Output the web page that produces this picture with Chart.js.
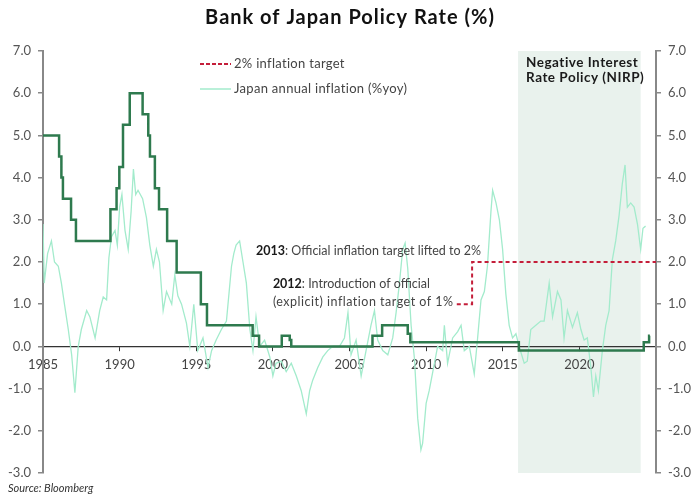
<!DOCTYPE html>
<html>
<head>
<meta charset="utf-8">
<title>Bank of Japan Policy Rate</title>
<script src="https://cdn.jsdelivr.net/npm/chart.js@4/dist/chart.umd.min.js"></script>
<style>
  html, body { margin: 0; padding: 0; background: #fff; }
</style>
</head>
<body>
<canvas id="chart" width="700" height="503"></canvas>
<script>
// BoJ policy rate - change dates (decimal years) and new level
const rateYears = [1985.0, 1986.05, 1986.2, 1986.3, 1986.83, 1987.15, 1989.4, 1989.8, 1989.98, 1990.22,
  1990.66, 1991.5, 1991.87, 1991.98, 1992.3, 1992.57, 1993.1, 1993.72, 1995.3, 1995.7,
  1998.68, 1999.1, 2000.58, 2001.1, 2001.2, 2006.5, 2007.13, 2008.8, 2008.97, 2016.05,
  2024.2, 2024.55, 2024.6];
const rateValues = [5.0, 4.5, 4.0, 3.5, 3.0, 2.5, 3.25, 3.75, 4.25, 5.25,
  6.0, 5.5, 5.0, 4.5, 3.75, 3.25, 2.5, 1.75, 1.0, 0.5,
  0.25, 0.0, 0.25, 0.15, 0.0, 0.25, 0.5, 0.3, 0.1, -0.1,
  0.1, 0.25, 0.25];

// inflation target line
const targetYears = [2012, 2013, 2025];
const targetValues = [1, 2, 2];

// Japan CPI %yoy
const inflationYears = [1985.0, 1985.08, 1985.3, 1985.55, 1985.75, 1986.0, 1986.2, 1986.4, 1986.65, 1986.87,
  1987.08, 1987.3, 1987.5, 1987.85, 1988.06, 1988.4, 1988.7, 1988.93, 1989.15, 1989.3,
  1989.47, 1989.7, 1989.85, 1990.0, 1990.15, 1990.35, 1990.56, 1990.75, 1990.9, 1991.05,
  1991.2, 1991.5, 1991.75, 1991.97, 1992.2, 1992.4, 1992.6, 1992.84, 1993.06, 1993.4,
  1993.6, 1993.8, 1994.04, 1994.36, 1994.58, 1994.84, 1995.1, 1995.44, 1995.77, 1996.0,
  1996.3, 1996.64, 1996.97, 1997.3, 1997.45, 1997.6, 1997.83, 1998.05, 1998.27, 1998.5,
  1998.7, 1998.9, 1999.14, 1999.46, 1999.8, 2000.0, 2000.2, 2000.55, 2000.87, 2001.2,
  2001.53, 2001.85, 2002.18, 2002.4, 2002.6, 2002.93, 2003.26, 2003.58, 2003.9, 2004.35,
  2004.67, 2004.9, 2005.1, 2005.43, 2005.76, 2006.08, 2006.4, 2006.63, 2006.84, 2007.17,
  2007.5, 2007.82, 2008.04, 2008.26, 2008.47, 2008.63, 2008.8, 2009.02, 2009.24, 2009.45,
  2009.66, 2009.77, 2010.0, 2010.2, 2010.54, 2010.75, 2011.08, 2011.19, 2011.4, 2011.73,
  2012.06, 2012.28, 2012.49, 2012.82, 2013.14, 2013.36, 2013.58, 2013.8, 2014.0, 2014.23,
  2014.34, 2014.56, 2014.78, 2014.99, 2015.2, 2015.42, 2015.64, 2015.86, 2016.07, 2016.4,
  2016.6, 2016.83, 2017.16, 2017.48, 2017.7, 2018.03, 2018.25, 2018.57, 2018.8, 2019.0,
  2019.22, 2019.55, 2019.87, 2020.1, 2020.31, 2020.52, 2020.75, 2020.92, 2021.07, 2021.24,
  2021.5, 2021.72, 2021.94, 2022.15, 2022.37, 2022.59, 2022.8, 2022.98, 2023.13, 2023.35,
  2023.57, 2023.79, 2024.0, 2024.15, 2024.32];
const inflationValues = [2.9, 1.5, 2.2, 2.5, 2.0, 1.9, 1.5, 1.0, 0.4, -0.2,
  -1.1, 0.0, 0.4, 0.85, 0.7, 0.2, 0.85, 1.17, 1.1, 2.1,
  2.6, 2.75, 2.4, 3.3, 3.6, 2.75, 2.3, 3.2, 4.2, 3.6,
  3.7, 3.5, 3.05, 2.4, 1.9, 2.3, 2.0, 0.85, 1.3, 1.0,
  1.7, 1.2, 1.0, 0.55, 0.0, 1.0, -0.1, 0.2, -0.5, -0.1,
  0.15, 0.4, 0.6, 1.9, 2.2, 2.4, 2.5, 2.0, 1.5, 0.4,
  -0.1, 0.7, 0.0, 0.15, -0.25, -0.7, -0.4, -0.35, -0.6, -0.4,
  -0.7, -1.05, -1.6, -1.05, -0.8, -0.5, -0.25, -0.1, 0.0, 0.0,
  0.2, 0.8, -0.2, 0.15, -0.7, -0.1, 0.5, 0.85, 0.15, -0.1,
  -0.2, 0.2, 0.8, 1.5, 2.3, 2.45, 1.85, 0.5, -0.3, -1.7,
  -2.45, -2.3, -1.35, -1.05, -0.4, 0.0, -0.1, 0.5, -0.4, 0.2,
  0.35, 0.5, -0.1, 0.0, -0.65, 0.2, 1.1, 1.3, 1.9, 3.2,
  3.7, 3.4, 3.0, 2.3, 1.25, 0.5, 0.2, 0.3, 0.0, -0.4,
  -0.35, 0.4, 0.5, 0.6, 0.6, 1.5, 0.7, 1.3, 1.1, 0.2,
  0.85, 0.45, 0.8, 0.4, 0.15, 0.2, -0.5, -1.2, -0.7, -1.05,
  -0.1, 0.5, 0.85, 2.05, 2.5, 3.1, 3.85, 4.3, 3.3, 3.4,
  3.3, 2.9, 2.3, 2.8, 2.85];

// NIRP period
const nirpStart = 2016.0;
const nirpEnd = 2024.0;

const FONT = 'Lato, "DejaVu Sans", sans-serif';
const toPoints = (xs, ys) => xs.map((x, i) => ({ x: x, y: ys[i] }));

// shaded NIRP box behind everything
const nirpShade = {
  id: 'nirpShade',
  beforeDraw(chart) {
    const { ctx, chartArea, scales } = chart;
    const x0 = scales.x.getPixelForValue(nirpStart);
    const x1 = scales.x.getPixelForValue(nirpEnd);
    ctx.save();
    ctx.fillStyle = '#e9f2ed';
    ctx.fillRect(x0, chartArea.top, x1 - x0, chartArea.bottom - chartArea.top);
    ctx.restore();
  }
};

// bold year + normal text, squeezed into total width if given
function richText(ctx, x, y, bold, rest, size, total) {
  ctx.font = 'bold ' + size + 'px ' + FONT;
  ctx.fillStyle = '#1a1a1a';
  ctx.fillText(bold, x, y);
  const w = ctx.measureText(bold).width;
  ctx.font = size + 'px ' + FONT;
  ctx.fillStyle = '#444';
  if (total) ctx.fillText(rest, x + w, y, total - w);
  else ctx.fillText(rest, x + w, y);
}

// title, legend and notes
const labels = {
  id: 'labels',
  afterDraw(chart) {
    const { ctx, scales } = chart;
    const xs = scales.x, ys = scales.y;
    ctx.save();
    ctx.textBaseline = 'middle';

    ctx.textAlign = 'center';
    ctx.fillStyle = '#111';
    ctx.font = 'bold 20px ' + FONT;
    ctx.letterSpacing = '1px';
    ctx.fillText('Bank of Japan Policy Rate (%)', 350, 18);

    ctx.textAlign = 'left';
    // legend
    ctx.strokeStyle = '#c41e3a';
    ctx.lineWidth = 2;
    ctx.setLineDash([4, 2]);
    ctx.beginPath(); ctx.moveTo(200, 64); ctx.lineTo(231, 64); ctx.stroke();
    ctx.setLineDash([]);
    ctx.strokeStyle = '#a3ebcc';
    ctx.lineWidth = 1.5;
    ctx.beginPath(); ctx.moveTo(200, 89); ctx.lineTo(231, 89); ctx.stroke();
    ctx.font = '13px ' + FONT;
    ctx.letterSpacing = '0.3px';
    ctx.fillStyle = '#444';
    ctx.fillText('2% inflation target', 234, 64);
    ctx.fillText('Japan annual inflation (%yoy)', 234, 89);

    // NIRP label
    ctx.font = 'bold 13.5px ' + FONT;
    ctx.letterSpacing = '0.5px';
    ctx.fillStyle = '#1a1a1a';
    const nx = xs.getPixelForValue(nirpStart) + 8;
    ctx.fillText('Negative Interest', nx, ys.getPixelForValue(6.72));
    ctx.fillText('Rate Policy (NIRP)', nx, ys.getPixelForValue(6.36));

    // target notes
    ctx.letterSpacing = '0px';
    richText(ctx, xs.getPixelForValue(1998.9), ys.getPixelForValue(2.25), '2013', ': Official inflation target lifted to 2%', 12.5, 243);
    const x2 = xs.getPixelForValue(2000.0);
    richText(ctx, x2, ys.getPixelForValue(1.48), '2012', ': Introduction of official', 12.5);
    ctx.font = '12.5px ' + FONT;
    ctx.letterSpacing = '0.5px';
    ctx.fillStyle = '#444';
    ctx.fillText('(explicit) inflation target of 1%', x2, ys.getPixelForValue(1.06));

    // source
    ctx.letterSpacing = '0px';
    ctx.font = 'italic 11px ' + FONT;
    ctx.fillStyle = '#333';
    ctx.fillText('Source: Bloomberg', 8, 488);
    ctx.restore();
  }
};

const yAxis = (pos, width) => ({
  type: 'linear',
  position: pos,
  min: -3,
  max: 7,
  afterFit(scale) { scale.width = width; },
  ticks: {
    stepSize: 1,
    padding: 7,
    color: '#555',
    font: { size: 13, family: FONT },
    callback: v => v.toFixed(1)
  },
  grid: { drawOnChartArea: false, drawTicks: true, tickLength: 5, color: '#888', lineWidth: 1.5 },
  border: { display: true, color: '#888', width: 2 }
});

new Chart(document.getElementById('chart'), {
  type: 'line',
  data: {
    datasets: [
      {
        label: 'BoJ policy rate',
        data: toPoints(rateYears, rateValues),
        borderColor: '#2e7a4e',
        borderWidth: 2.5,
        stepped: true,
        pointRadius: 0,
        yAxisID: 'y'
      },
      {
        label: '2% inflation target',
        data: toPoints(targetYears, targetValues),
        borderColor: '#c41e3a',
        borderWidth: 2,
        borderDash: [4, 3],
        stepped: true,
        pointRadius: 0,
        yAxisID: 'y'
      },
      {
        label: 'Japan annual inflation (%yoy)',
        data: toPoints(inflationYears, inflationValues),
        borderColor: '#a3ebcc',
        borderWidth: 1.3,
        pointRadius: 0,
        yAxisID: 'y'
      }
    ]
  },
  options: {
    responsive: false,
    animation: false,
    layout: { padding: { top: 51, bottom: 30, left: 0, right: 0 } },
    plugins: { legend: { display: false }, tooltip: { enabled: false } },
    scales: {
      x: {
        type: 'linear',
        position: { y: 0 },
        min: 1985,
        max: 2025,
        ticks: {
          stepSize: 5,
          padding: 7,
          color: '#444',
          font: { size: 13, family: FONT },
          callback: v => (v === 2025 ? '' : String(v))
        },
        grid: { drawOnChartArea: false, tickLength: 4, color: '#333' },
        border: { display: true, color: '#333', width: 1.2 }
      },
      y: yAxis('left', 43),
      y2: yAxis('right', 44)
    }
  },
  plugins: [nirpShade, labels]
});
</script>
</body>
</html>
